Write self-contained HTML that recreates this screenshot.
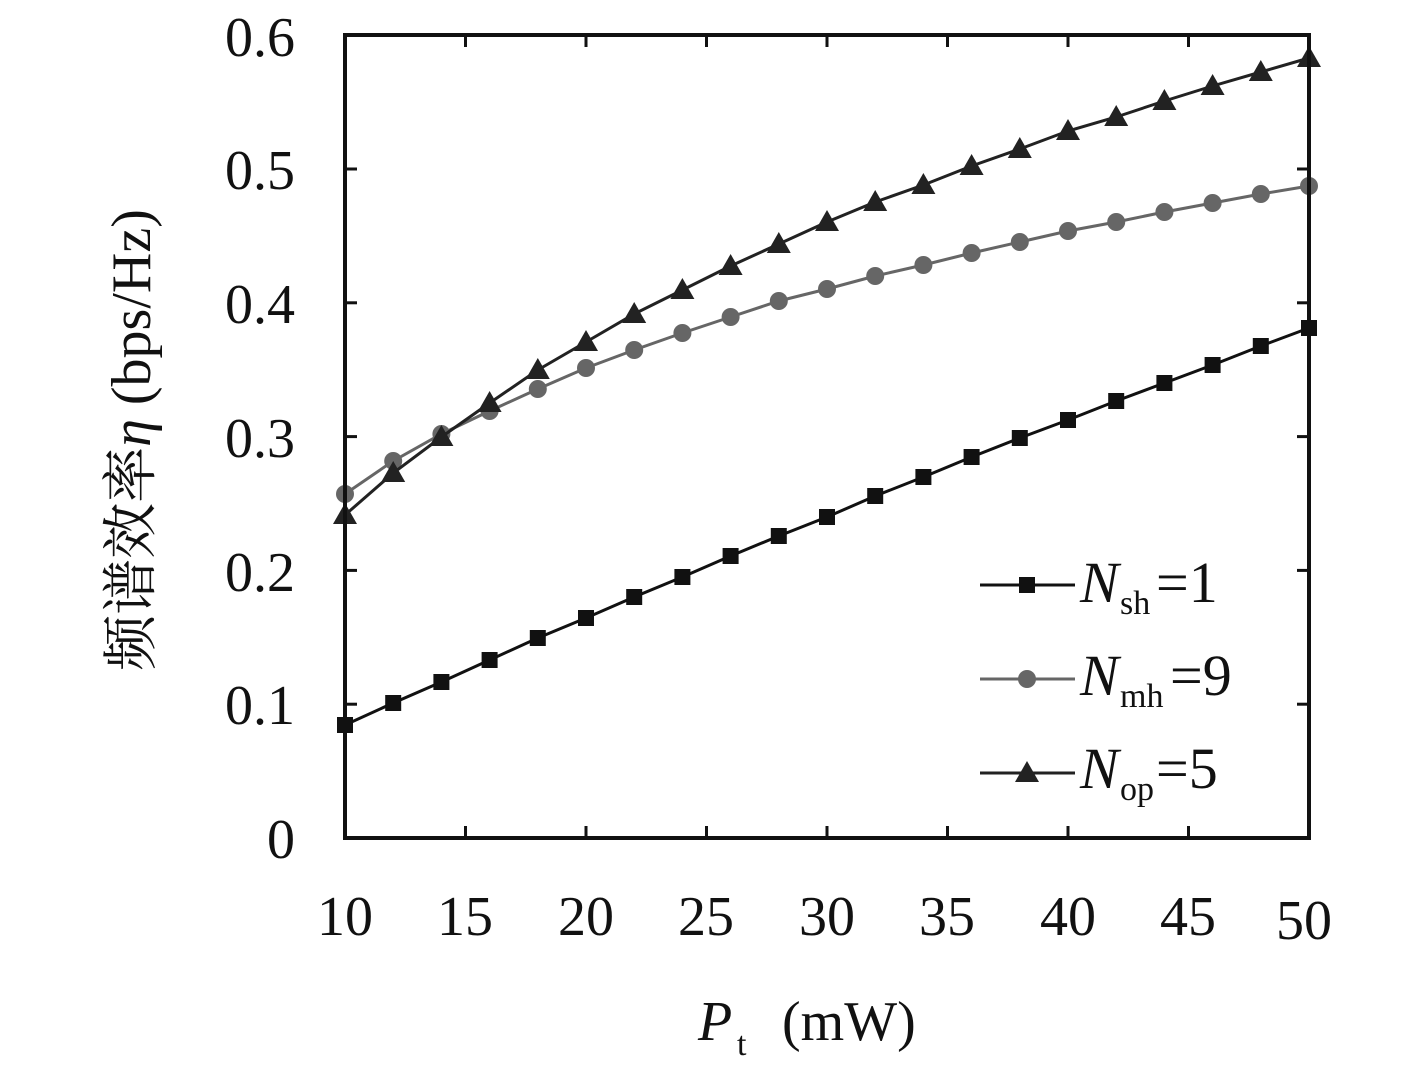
<!DOCTYPE html>
<html><head><meta charset="utf-8"><style>
html,body{margin:0;padding:0;background:#fff;}
svg{display:block;}
text{font-family:"Liberation Serif","Noto Serif CJK SC",serif;fill:#111;}
</style></head><body>
<svg id="s" width="1417" height="1077" viewBox="0 0 1417 1077" xmlns="http://www.w3.org/2000/svg">
<g id="ticks" stroke="#111" stroke-width="3"></g>
<g id="series"></g>
<rect x="345" y="35" width="964" height="803" fill="none" stroke="#111" stroke-width="4"/>
<g font-size="56" text-anchor="end">
<text x="295" y="858">0</text>
<text x="295" y="724">0.1</text>
<text x="295" y="591">0.2</text>
<text x="295" y="457">0.3</text>
<text x="295" y="323">0.4</text>
<text x="295" y="189">0.5</text>
<text x="295" y="56">0.6</text>
</g>
<g font-size="56" text-anchor="middle">
<text x="345" y="935">10</text><text x="465" y="935">15</text><text x="586" y="935">20</text>
<text x="706" y="935">25</text><text x="827" y="935">30</text><text x="947" y="935">35</text>
<text x="1068" y="935">40</text><text x="1188" y="935">45</text><text x="1304" y="939">50</text>
</g>
<text x="698" y="1040" font-size="56" font-style="italic">P</text>
<text x="737" y="1055" font-size="34">t</text>
<text x="782" y="1040" font-size="56">(mW)</text>
<text transform="translate(150,440) rotate(-90)" font-size="56" text-anchor="middle">频谱效率<tspan font-style="italic">η</tspan> (bps/Hz)</text>
<g id="legend"></g>
<text x="1080" y="602" font-size="58" font-style="italic">N</text><text x="1120" y="614" font-size="34">sh</text><text x="1156" y="602" font-size="58">=1</text>
<text x="1080" y="695" font-size="58" font-style="italic">N</text><text x="1120" y="707" font-size="34">mh</text><text x="1170" y="695" font-size="58">=9</text>
<text x="1080" y="788" font-size="58" font-style="italic">N</text><text x="1120" y="800" font-size="34">op</text><text x="1156" y="788" font-size="58">=5</text>
</svg>
<script>
var NS="http://www.w3.org/2000/svg";
function el(p,t,a){var e=document.createElementNS(NS,t);for(var k in a)e.setAttribute(k,a[k]);p.appendChild(e);return e;}
var tk=document.getElementById("ticks");
for(var i=1;i<8;i++){var x=345+i*120.5;el(tk,"line",{x1:x,y1:838,x2:x,y2:826});el(tk,"line",{x1:x,y1:35,x2:x,y2:47});}
for(var j=1;j<6;j++){var y=838-j*133.8;el(tk,"line",{x1:345,y1:y,x2:357,y2:y});el(tk,"line",{x1:1309,y1:y,x2:1297,y2:y});}
var sq=[725,703,682,660,638,618,597,577,556,536,517,496,477,457,438,420,401,383,365,346,328];
var ci=[494,461,434,411,389,368,350,333,317,301,289,276,265,253,242,231,222,212,203,194,186];
var tr=[515,473,437,403,370,342,314,290,266,244,222,202,185,166,149,131,117,101,86,72,58];
var g=document.getElementById("series");
function X(i){return 345+i*48.2;}
function marker(p,type,x,y,c){
 if(type==0)el(p,"rect",{x:x-8,y:y-8,width:16,height:16,fill:c});
 else if(type==1)el(p,"circle",{cx:x,cy:y,r:9,fill:c});
 else el(p,"polygon",{points:(x-12)+","+(y+9)+" "+(x+12)+","+(y+9)+" "+x+","+(y-12),fill:c});
}
[[sq,"#111",0],[ci,"#666",1],[tr,"#222",2]].forEach(function(s){
 var pts=s[0].map(function(v,i){return X(i)+","+v;}).join(" ");
 el(g,"polyline",{points:pts,fill:"none",stroke:s[1],"stroke-width":3});
 s[0].forEach(function(v,i){marker(g,s[2],X(i),v,s[1]);});
});
var lg=document.getElementById("legend");
[[585,"#111",0],[679,"#666",1],[773,"#222",2]].forEach(function(l){
 el(lg,"line",{x1:980,y1:l[0],x2:1075,y2:l[0],stroke:l[1],"stroke-width":3});
 marker(lg,l[2],1027,l[0],l[1]);
});
</script>
</body></html>
